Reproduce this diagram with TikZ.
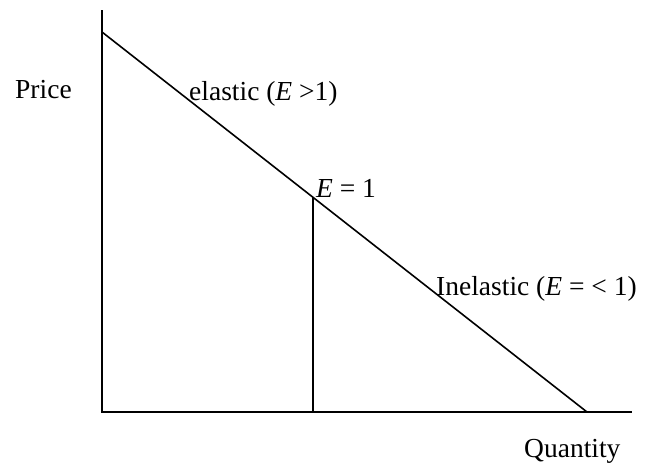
\documentclass[tikz,border=0pt]{standalone}
\usepackage{fontspec}
\setmainfont{Liberation Serif}
\usetikzlibrary{calc}
\begin{document}
\begin{tikzpicture}[x=1pt,y=-1pt,
  axisline/.style={line width=1.8pt,black},
  curveline/.style={line width=1.6pt,black},
  lbl/.style={anchor=base west,inner sep=0pt,font=\fontsize{27.5}{33}\selectfont}]
\useasboundingbox (0,0) rectangle (646,463);
\coordinate (origin) at (102,412);
\coordinate (ytop) at (102,10);
\coordinate (xend) at (632,412);
\coordinate (dtop) at (102,32);
\coordinate (dend) at (587,412);
\coordinate (unit) at ($(dtop)!0.435!(dend)$);
\coordinate (unitfoot) at (unit |- origin);
\draw[axisline] (ytop) -- (origin) -- (xend);
\draw[curveline] (dtop) -- (dend);
\draw[curveline] (unit) -- (unitfoot);
\node[lbl] (price) at (15,98) {Price};
\node[lbl] (qty) at (524,457) {Quantity};
\node[lbl] (elastic) at (189,100) {elastic (\textit{E} >1)};
\node[lbl] (unitlbl) at (316,197) {\textit{E} = 1};
\node[lbl] (inelastic) at (436,295) {Inelastic (\textit{E} = < 1)};
\end{tikzpicture}
\end{document}
